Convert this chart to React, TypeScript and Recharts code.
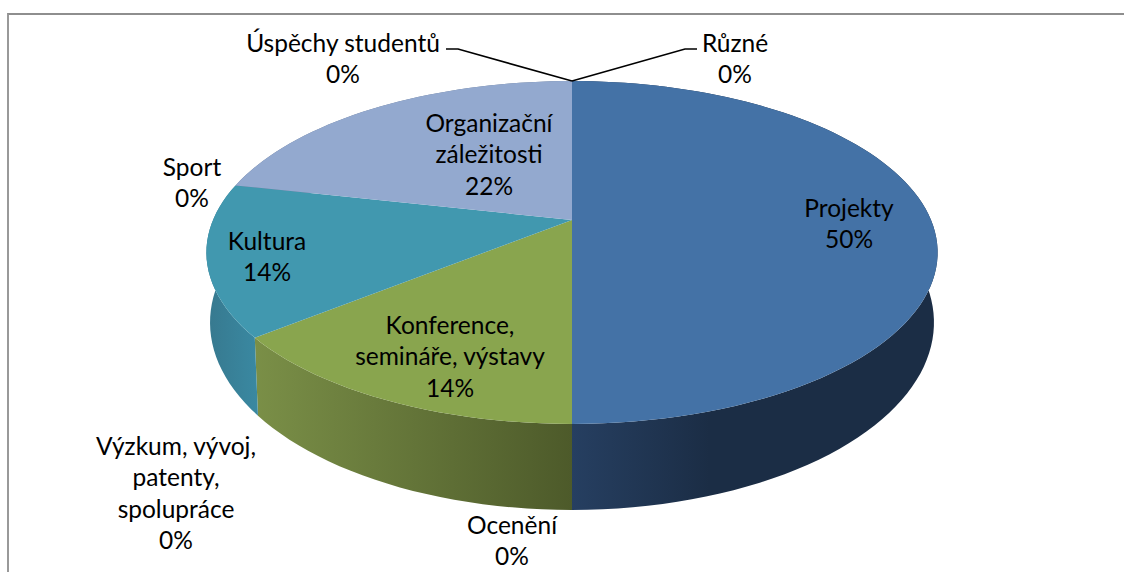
import React from 'react';
import { PieChart, Pie } from 'recharts';

const categories = [
    'Projekty',
    'Ocenění',
    'Konference,\nsemináře, výstavy',
    'Výzkum, vývoj,\npatenty,\nspolupráce',
    'Kultura',
    'Sport',
    'Organizační\nzáležitosti',
    'Úspěchy studentů',
    'Různé',
];
const shares = [50, 0, 14.2, 0, 14.3, 0, 21.5, 0, 0];
const topColors = ['#4472A6', '#AA4643', '#89A54E', '#71588F', '#4198AF', '#DB843D', '#93A9CF', '#D19392', '#B9CD96'];
const sideColors = ['url(#sideBlue)', '#7A3230', 'url(#sideGreen)', '#513F67', 'url(#sideTeal)', '#9E5F2C', '#6A7A95', '#967069', '#85946C'];

// where each data label sits (centre x, y of the first line)
const labelX = [849, 512, 450, 176, 267, 192, 489, 343, 735];
const labelY = [207, 524, 324, 445, 240, 166, 122, 42, 42];
const lineGap = 31.5;

// leader lines for the two labels at the top of the pie: bend x, end x
const leaderBend: Record<number, number[]> = { 7: [458, 446], 8: [685, 697] };
const leaderY = 49;

const tableData = categories.map((name, i) => ({ name, value: shares[i], fill: topColors[i], side: sideColors[i] }));

// perspective of the pie: the far half is squeezed, the near half stretched
const K = 0.1895;
const TILT = 0.4604;
const BOTTOM_K = 0.1895;
const BOTTOM_X = 0.99;
const BOTTOM_TILT = 0.5033;
const BOTTOM_DROP = 67;

const topPoint = (cx: number, cy: number, r: number, deg: number) => {
    const a = (deg * Math.PI) / 180;
    const d = 1 + K * Math.sin(a);
    return [cx + (r * Math.cos(a)) / d, cy - (r * TILT * Math.sin(a)) / d];
};

const bottomPoint = (cx: number, cy: number, r: number, deg: number) => {
    const a = (deg * Math.PI) / 180;
    const d = 1 + BOTTOM_K * Math.sin(a);
    return [cx + (r * BOTTOM_X * Math.cos(a)) / d, cy + BOTTOM_DROP - (r * BOTTOM_TILT * Math.sin(a)) / d];
};

const sweep = (start: number, end: number) => {
    const steps = Math.max(2, Math.ceil(Math.abs(end - start) / 2));
    return Array.from({ length: steps + 1 }, (_, i) => start + ((end - start) * i) / steps);
};

const toPath = (pts: number[][]) =>
    pts.map((p, i) => `${i === 0 ? 'M' : 'L'}${p[0].toFixed(2)},${p[1].toFixed(2)}`).join(' ') + ' Z';

const TopSlice = (props: any) => {
    const { cx, cy, outerRadius, startAngle, endAngle, fill } = props;
    if (startAngle === endAngle) return <g />;
    const arc = sweep(startAngle, endAngle).map((d) => topPoint(cx, cy, outerRadius, d));
    return <path d={toPath([[cx, cy], ...arc])} fill={fill} />;
};

const SideSlice = (props: any) => {
    const { cx, cy, outerRadius, startAngle, endAngle, side } = props;
    if (startAngle === endAngle) return <g />;
    const angles = sweep(startAngle, endAngle);
    const upper = angles.map((d) => topPoint(cx, cy, outerRadius, d));
    const lower = angles.map((d) => bottomPoint(cx, cy, outerRadius, d)).reverse();
    return <path d={toPath([...upper, ...lower])} fill={side} />;
};

const renderLabel = (props: any) => {
    const { index, value, name } = props;
    const lines = [...String(name).split('\n'), `${Math.round(value)}%`];
    return (
        <text
            key={index}
            x={labelX[index]}
            textAnchor="middle"
            fontFamily="Lato, Carlito, sans-serif"
            fontSize={24.5}
            fill="#000000"
        >
            {lines.map((line, i) => (
                <tspan key={i} x={labelX[index]} y={labelY[index] + i * lineGap} dominantBaseline="central">
                    {line}
                </tspan>
            ))}
        </text>
    );
};

const renderLeader = (props: any) => {
    const { index, cx, cy, outerRadius, startAngle } = props;
    const bend = leaderBend[index];
    if (!bend) return <g key={index} />;
    const [x, y] = topPoint(cx, cy, outerRadius, startAngle);
    return (
        <path
            key={index}
            d={`M${x},${y} L${bend[0]},${leaderY} L${bend[1]},${leaderY}`}
            fill="none"
            stroke="#000000"
            strokeWidth={1.6}
        />
    );
};

const App = () => (
    <div style={{ position: 'absolute', left: 0, top: 0, width: 1124, height: 572, overflow: 'hidden', background: '#fff' }}>
        <div
            style={{
                position: 'absolute',
                left: 7,
                top: 13,
                width: 1130,
                height: 580,
                borderTop: '2px solid #8E8E8E',
                borderLeft: '2px solid #999999',
            }}
        />
        <div style={{ position: 'absolute', left: 0, top: 0 }}>
            <PieChart width={1124} height={572} margin={{ top: 0, right: 0, bottom: 0, left: 0 }}>
                <defs>
                    <linearGradient id="sideBlue" gradientUnits="userSpaceOnUse" x1="572" y1="0" x2="710" y2="0">
                        <stop offset="0" stopColor="#263F61" />
                        <stop offset="1" stopColor="#1B2D45" />
                    </linearGradient>
                    <linearGradient id="sideGreen" gradientUnits="userSpaceOnUse" x1="255" y1="0" x2="572" y2="0">
                        <stop offset="0" stopColor="#7A8F47" />
                        <stop offset="1" stopColor="#4D5A2A" />
                    </linearGradient>
                    <linearGradient id="sideTeal" gradientUnits="userSpaceOnUse" x1="208" y1="0" x2="262" y2="0">
                        <stop offset="0" stopColor="#37798F" />
                        <stop offset="1" stopColor="#3A8AA3" />
                    </linearGradient>
                </defs>
                <Pie
                    data={tableData}
                    dataKey="value"
                    nameKey="name"
                    cx={572}
                    cy={220}
                    outerRadius={359}
                    startAngle={90}
                    endAngle={-270}
                    stroke="none"
                    shape={SideSlice}
                    isAnimationActive={false}
                />
                <Pie
                    data={tableData}
                    dataKey="value"
                    nameKey="name"
                    cx={572}
                    cy={220}
                    outerRadius={359}
                    startAngle={90}
                    endAngle={-270}
                    stroke="none"
                    shape={TopSlice}
                    label={renderLabel}
                    labelLine={renderLeader}
                    isAnimationActive={false}
                />
            </PieChart>
        </div>
    </div>
);

export default App;
